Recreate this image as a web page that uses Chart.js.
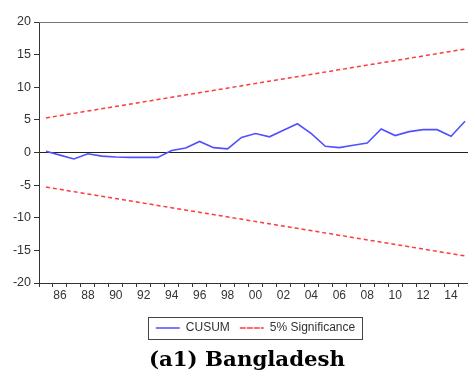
<!DOCTYPE html>
<html>
<head>
<meta charset="utf-8">
<script src="https://cdn.jsdelivr.net/npm/chart.js@4"></script>
<style>
  html, body { margin: 0; padding: 0; background: #fff; overflow: hidden; }
  #wrap { position: relative; width: 472px; height: 372px; }
  #title {
    position: absolute; left: 0; width: 494px; top: 347px;
    text-align: center; font: bold 21.3px "DejaVu Serif", serif; line-height: 24px; color: #000;
  }
</style>
</head>
<body>
<div id="wrap">
  <canvas id="cusumChart" width="472" height="372"></canvas>
  <div id="title">(a1) Bangladesh</div>
</div>
<script>
// Năm (trục x)
const years = [1985, 1986, 1987, 1988, 1989, 1990, 1991, 1992, 1993, 1994,
               1995, 1996, 1997, 1998, 1999, 2000, 2001, 2002, 2003, 2004,
               2005, 2006, 2007, 2008, 2009, 2010, 2011, 2012, 2013, 2014, 2015];
// Giá trị CUSUM
const cusum = [0.2, -0.4, -1.0, -0.2, -0.55, -0.7, -0.75, -0.75, -0.75, 0.3,
               0.7, 1.7, 0.75, 0.55, 2.3, 2.9, 2.4, 3.4, 4.4, 2.9,
               0.95, 0.75, 1.1, 1.45, 3.6, 2.6, 3.2, 3.5, 3.5, 2.5, 4.8];
// Đường biên 5% (thẳng, chỉ cần hai đầu mút)
const upperEnds = [5.3, 15.85];
const lowerEnds = [-5.3, -15.85];
const yTicks = [-20, -15, -10, -5, 0, 5, 10, 15, 20];

const labels = years.map(String);
const firstYear = labels[0], lastYear = labels[labels.length - 1];

// Vẽ khung trên và viền quanh chú thích
const framePlugin = {
    id: 'frame',
    afterDraw(chart) {
        const ctx = chart.ctx;
        const a = chart.chartArea;
        ctx.save();
        ctx.strokeStyle = '#777';
        ctx.lineWidth = 1;
        ctx.beginPath();
        ctx.moveTo(a.left, a.top + 0.5);
        ctx.lineTo(a.right, a.top + 0.5);
        ctx.stroke();

        const boxes = chart.legend.legendHitBoxes;
        if (boxes && boxes.length) {
            const left = Math.min(...boxes.map(b => b.left)) - 8;
            const right = Math.max(...boxes.map(b => b.left + b.width)) + 7;
            const top = boxes[0].top - 5;
            const bottom = boxes[0].top + boxes[0].height + 5;
            ctx.strokeStyle = '#444';
            ctx.strokeRect(Math.round(left) + 0.5, Math.round(top) + 0.5,
                           Math.round(right - left), Math.round(bottom - top));
        }
        ctx.restore();
    }
};

const ctx = document.getElementById('cusumChart').getContext('2d');
new Chart(ctx, {
    type: 'line',
    data: {
        labels: labels,
        datasets: [{
            label: 'CUSUM',
            data: cusum,
            borderColor: '#5050ff',
            backgroundColor: 'rgba(0,0,0,0)',
            borderWidth: 1.6,
            pointRadius: 0,
            tension: 0
        }, {
            label: '5% Significance',
            data: [{x: firstYear, y: upperEnds[0]}, {x: lastYear, y: upperEnds[1]}],
            borderColor: '#ff3a3a',
            backgroundColor: 'rgba(0,0,0,0)',
            borderWidth: 1.5,
            borderDash: [4, 3],
            pointRadius: 0
        }, {
            label: 'lower',
            data: [{x: firstYear, y: lowerEnds[0]}, {x: lastYear, y: lowerEnds[1]}],
            borderColor: '#ff3a3a',
            backgroundColor: 'rgba(0,0,0,0)',
            borderWidth: 1.5,
            borderDash: [4, 3],
            pointRadius: 0
        }]
    },
    options: {
        responsive: false,
        animation: false,
        devicePixelRatio: 1,
        layout: { padding: { top: 22, right: 0, bottom: 28, left: 0 } },
        scales: {
            x: {
                type: 'category',
                offset: true,
                grid: {
                    offset: true,
                    drawOnChartArea: false,
                    tickLength: 4,
                    color: '#333'
                },
                border: { display: true, color: '#333', width: 1 },
                ticks: {
                    autoSkip: false,
                    maxRotation: 0,
                    padding: 1,
                    color: '#333',
                    font: { family: '"Liberation Sans", Arial, sans-serif', size: 12 },
                    callback: function (val, i) {
                        const y = years[i];
                        return y % 2 === 0 ? String(y).slice(2) : '';
                    }
                },
                afterFit: function (scale) { scale.height = 29; }
            },
            y: {
                min: -20,
                max: 20,
                afterBuildTicks: function (scale) {
                    scale.ticks = yTicks.map(v => ({ value: v }));
                },
                grid: {
                    color: c => (c.tick && c.tick.value === 0) ? '#222' : 'rgba(0,0,0,0)',
                    tickColor: '#333',
                    tickLength: 5
                },
                border: { display: true, color: '#333', width: 1 },
                ticks: {
                    padding: 3,
                    color: '#333',
                    font: { family: '"Liberation Sans", Arial, sans-serif', size: 12.5 }
                },
                afterFit: function (scale) { scale.width = 39; }
            }
        },
        plugins: {
            legend: {
                position: 'bottom',
                fullSize: false,
                labels: {
                    boxWidth: 24,
                    boxHeight: 0,
                    padding: 10,
                    color: '#333',
                    font: { family: '"Liberation Sans", Arial, sans-serif', size: 12 },
                    filter: item => item.text !== 'lower'
                }
            },
            tooltip: { enabled: false }
        }
    },
    plugins: [framePlugin]
});
</script>
</body>
</html>
